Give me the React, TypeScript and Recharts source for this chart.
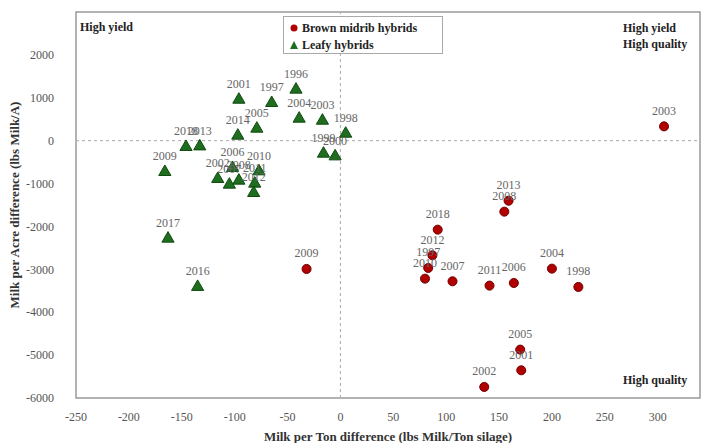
import {
  Label,
  LabelList,
  ReferenceArea,
  ReferenceLine,
  Scatter,
  ScatterChart,
  XAxis,
  YAxis,
  ZAxis,
} from "recharts";

const bmrYears = ["2003", "2013", "2008", "2018", "2012", "1997", "2010", "2007", "2011", "2006", "2004", "1998", "2009", "2005", "2001", "2002"];
const bmrMilkPerTon = [306, 159, 155, 92, 87, 83, 80, 106, 141, 164, 200, 225, -32, 170, 171, 136];
const bmrMilkPerAcre = [333, -1400, -1655, -2075, -2673, -2968, -3217, -3279, -3380, -3318, -2984, -3411, -2991, -4872, -5354, -5742];

const leafyYears = ["2001", "1997", "1996", "2004", "2003", "1998", "2005", "2014", "2018", "2013", "2009", "1999", "2000", "2006", "2010", "2002", "2007", "2008", "2011", "2012", "2017", "2016"];
const leafyMilkPerTon = [-96, -65, -42, -39, -17, 5, -79, -97, -146, -133, -166, -16, -5, -102, -77, -116, -105, -96, -81, -82, -163, -135];
const leafyMilkPerAcre = [955, 878, 1190, 513, 466, 163, 280, 117, -147, -133, -730, -303, -366, -637, -715, -893, -1026, -932, -1002, -1220, -2284, -3410];

const xTicks = [-250, -200, -150, -100, -50, 0, 50, 100, 150, 200, 250, 300];
const yTicks = [-6000, -5000, -4000, -3000, -2000, -1000, 0, 1000, 2000];

const bmrData = bmrYears.map((year, i) => ({ year, x: bmrMilkPerTon[i], y: bmrMilkPerAcre[i] }));
const leafyData = leafyYears.map((year, i) => ({ year, x: leafyMilkPerTon[i], y: leafyMilkPerAcre[i] }));

const serif = "'Liberation Serif', 'DejaVu Serif', serif";
const tickStyle = { fontSize: 12, fill: "#555", fontFamily: serif };
const bold = { fontFamily: serif, fontWeight: 700, fontSize: 12, color: "#222" } as const;

export default function App() {
  return (
    <div style={{ position: "fixed", left: 0, top: 0, width: 704, height: 443, background: "#fff" }}>
      <ScatterChart width={704} height={443} margin={{ top: 12, right: 4, bottom: 0, left: 0 }}>
        <XAxis
          type="number"
          dataKey="x"
          domain={[-250, 340]}
          ticks={xTicks}
          height={45}
          tickLine={false}
          axisLine={false}
          tick={tickStyle}
          tickMargin={8}
          allowDataOverflow
        >
          <Label
            value="Milk per Ton  difference (lbs Milk/Ton silage)"
            position="insideBottom"
            offset={2}
            style={{ fontFamily: serif, fontWeight: 700, fontSize: 13, fill: "#333" }}
          />
        </XAxis>
        <YAxis
          type="number"
          dataKey="y"
          domain={[-6000, 3000]}
          ticks={yTicks}
          width={76}
          tickLine={false}
          axisLine={false}
          tick={tickStyle}
          tickMargin={16}
          allowDataOverflow
        >
          <Label
            value="Milk per Acre difference (lbs Milk/A)"
            angle={-90}
            position="insideLeft"
            offset={14}
            style={{ fontFamily: serif, fontWeight: 700, fontSize: 13, fill: "#333", textAnchor: "middle" }}
          />
        </YAxis>
        <ZAxis range={[70, 70]} />
        <ReferenceArea x1={-250} x2={340} y1={-6000} y2={3000} fill="none" stroke="#9a9a9a" strokeWidth={1.5} />
        <ReferenceLine x={0} stroke="#aaa" strokeDasharray="3 3" />
        <ReferenceLine y={0} stroke="#aaa" strokeDasharray="3 3" />
        <Scatter
          name="Leafy hybrids"
          data={leafyData}
          shape="triangle"
          fill="#1f6e1f"
          stroke="#0f4a0f"
          isAnimationActive={false}
        >
          <LabelList dataKey="year" position="top" offset={7} fill="#666" stroke="none" fontSize={12} fontFamily={serif} />
        </Scatter>
        <Scatter
          name="Brown midrib hybrids"
          data={bmrData}
          shape="circle"
          fill="#b00000"
          stroke="#700000"
          isAnimationActive={false}
        >
          <LabelList dataKey="year" position="top" offset={7} fill="#666" stroke="none" fontSize={12} fontFamily={serif} />
        </Scatter>
      </ScatterChart>

      <div style={{ ...bold, position: "absolute", left: 80, top: 20 }}>High yield</div>
      <div style={{ ...bold, position: "absolute", left: 623, top: 20, lineHeight: "16px" }}>
        High yield
        <br />
        High quality
      </div>
      <div style={{ ...bold, position: "absolute", left: 623, top: 373 }}>High quality</div>

      <div
        style={{
          ...bold,
          position: "absolute",
          left: 283,
          top: 16,
          width: 160,
          height: 38,
          border: "1px solid #aaa",
          background: "#fff",
          boxSizing: "border-box",
          padding: "3px 0 0 6px",
          lineHeight: "17px",
        }}
      >
        <div>
          <svg width={8} height={8} style={{ marginRight: 4 }}>
            <circle cx={4} cy={4} r={3.5} fill="#b00000" />
          </svg>
          Brown midrib hybrids
        </div>
        <div>
          <svg width={8} height={8} style={{ marginRight: 4 }}>
            <polygon points="4,0 8,8 0,8" fill="#1f6e1f" />
          </svg>
          Leafy hybrids
        </div>
      </div>
    </div>
  );
}
